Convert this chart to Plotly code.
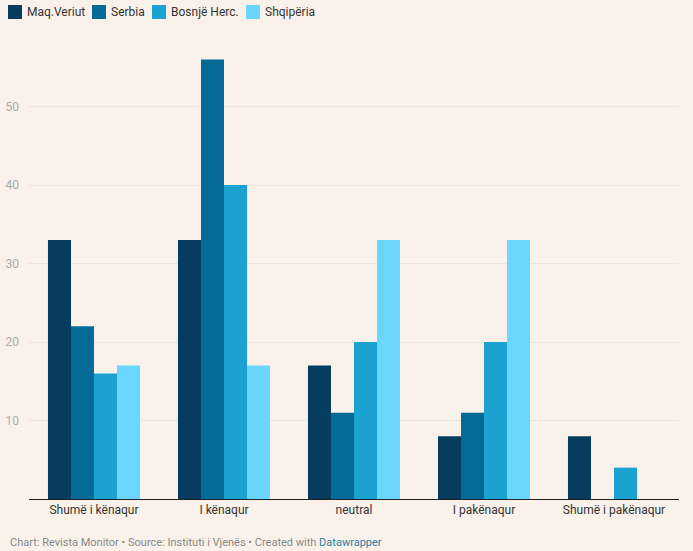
import plotly.graph_objects as go

categories = ["Shumë i kënaqur", "I kënaqur", "neutral", "I pakënaqur", "Shumë i pakënaqur"]
maq_veriut = [33, 33, 17, 8, 8]
serbia = [22, 56, 11, 11, 0]
bosnje = [16, 40, 20, 20, 4]
shqiperia = [17, 17, 33, 33, 0]

series_names = ["Maq.Veriut", "Serbia", "Bosnjë Herc.", "Shqipëria"]
series_values = [maq_veriut, serbia, bosnje, shqiperia]
series_colors = ["#063c5e", "#046a97", "#1ba2d0", "#6bd6fd"]

W, H = 693, 551
ML, MR, MT, MB = 29, 14, 28, 52
PW, PH = W - ML - MR, H - MT - MB


def px_x(p):
    return (p - ML) / PW


def px_y(p):
    return (H - MB - p) / PH


fig = go.Figure()
for name, vals, col in zip(series_names, series_values, series_colors):
    fig.add_trace(go.Bar(x=categories, y=vals, name=name,
                         marker=dict(color=col, line=dict(width=0)),
                         hoverinfo="x+y+name"))

bg = "#faf2ea"
fig.update_layout(
    width=W, height=H,
    paper_bgcolor=bg, plot_bgcolor=bg,
    margin=dict(l=ML, r=MR, t=MT, b=MB, autoexpand=False),
    barmode="group", bargap=0.292, bargroupgap=0,
    font=dict(family="Roboto, sans-serif", size=12, color="#333333"),
    showlegend=False,
)
fig.update_yaxes(range=[0, 60], tickvals=[10, 20, 30, 40, 50], showgrid=True,
                 gridcolor="#ebe5df", gridwidth=1, zeroline=False, showline=False,
                 tickfont=dict(size=12, color="#aaaaaa"), ticks="", ticklabelstandoff=9,
                 automargin=False, fixedrange=True)
fig.update_xaxes(showline=True, linecolor="#222222", linewidth=1, ticks="",
                 tickfont=dict(size=12, color="#333333"), showgrid=False,
                 automargin=False, fixedrange=True)

# legend (top-left), squares + labels
legend_sq_x = [8, 92, 152, 246]
for name, col, sx in zip(series_names, series_colors, legend_sq_x):
    fig.add_shape(type="rect", xref="paper", yref="paper",
                  x0=px_x(sx), x1=px_x(sx + 14), y0=px_y(19), y1=px_y(5),
                  fillcolor=col, line=dict(width=0))
    fig.add_annotation(xref="paper", yref="paper", x=px_x(sx + 17), y=px_y(12),
                       xanchor="left", yanchor="middle", text=name, showarrow=False,
                       font=dict(size=12, color="#333333"))

fig.add_annotation(
    xref="paper", yref="paper", x=px_x(8), y=px_y(542), xanchor="left", yanchor="middle",
    text="Chart: Revista Monitor • Source: Instituti i Vjenës • Created with <span style='color:#1d81a2'>Datawrapper</span>",
    showarrow=False, font=dict(size=11, color="#888888"),
)

fig.write_html("out.html", config={"displayModeBar": False},
               post_script="document.body.style.margin='0';document.body.style.overflow='hidden';document.body.style.background='" + bg + "';")
